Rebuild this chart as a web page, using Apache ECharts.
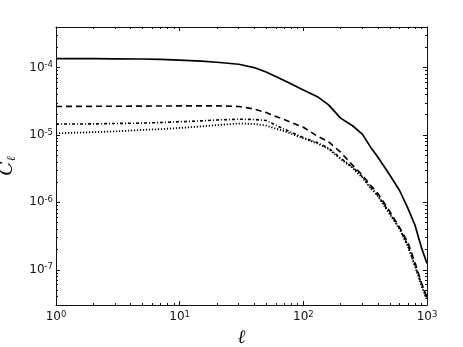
<!DOCTYPE html>
<html><head><meta charset="utf-8">
<script src="https://cdn.jsdelivr.net/npm/echarts@6/dist/echarts.min.js"></script>
<style>html,body{margin:0;padding:0;background:#fff}#c{width:463px;height:347px}</style>
</head><body><div id="c"></div>
<script>
// multipoles
const ell = [1,2,3,5,7,10,15,20,30,40,50,70,100,130,160,200,250,300,350,400,500,600,700,800,900,1000];
// series values (C_ell)
const solidC = [1.36e-4,1.355e-4,1.35e-4,1.34e-4,1.32e-4,1.29e-4,1.245e-4,1.2e-4,1.12e-4,1.0e-4,8.6e-5,6.45e-5,4.65e-5,3.7e-5,2.8e-5,1.78e-5,1.37e-5,1.03e-5,6.6e-6,4.7e-6,2.55e-6,1.5e-6,8.2e-7,4.57e-7,2.15e-7,1.24e-7];
const dashedC = [2.65e-5,2.66e-5,2.67e-5,2.68e-5,2.69e-5,2.7e-5,2.7e-5,2.7e-5,2.65e-5,2.43e-5,2.15e-5,1.69e-5,1.3e-5,9.6e-6,7.9e-6,5.57e-6,3.57e-6,2.53e-6,1.8e-6,1.36e-6,7.36e-7,4.26e-7,2.55e-7,1.28e-7,6.47e-8,3.87e-8];
const dashDotC = [1.45e-5,1.46e-5,1.48e-5,1.5e-5,1.53e-5,1.57e-5,1.62e-5,1.67e-5,1.71e-5,1.7e-5,1.64e-5,1.22e-5,9.15e-6,7.7e-6,6.38e-6,4.53e-6,3.33e-6,2.4e-6,1.68e-6,1.28e-6,6.9e-7,4.12e-7,2.3e-7,1.16e-7,6.25e-8,3.74e-8];
const dottedC = [1.06e-5,1.1e-5,1.13e-5,1.19e-5,1.22e-5,1.27e-5,1.34e-5,1.4e-5,1.48e-5,1.46e-5,1.38e-5,1.14e-5,8.9e-6,7.45e-6,6.2e-6,4.4e-6,3.25e-6,2.33e-6,1.62e-6,1.24e-6,6.7e-7,4.0e-7,2.23e-7,1.12e-7,5.8e-8,3.5e-8];
// tick values
const xMajor = [1,10,100,1000];
const yMajor = [1e-7,1e-6,1e-5,1e-4];
const minorMult = [2,3,4,5,6,7,8,9];
const xMinorDecades = [1,10,100];
const yMinorDecades = [1e-8,1e-7,1e-6,1e-5,1e-4];

const xMinor = [], yMinor = [];
xMinorDecades.forEach(d => minorMult.forEach(m => xMinor.push(m*d)));
yMinorDecades.forEach(d => minorMult.forEach(m => { const v = m*d; if (v >= 3e-8 && v <= 4e-4) yMinor.push(v); }));

const XMIN = 1, XMAX = 1000, YMIN = 3e-8, YMAX = 4e-4;
const AX = '#111';
const fmt = v => '{b|10}{s|' + Math.round(Math.log10(v)) + '}';
const rich = {
  b: {fontFamily: 'DejaVu Sans', fontSize: 12, color: '#111', lineHeight: 14},
  s: {fontFamily: 'DejaVu Sans', fontSize: 8.5, color: '#111', lineHeight: 8, verticalAlign: 'top'}
};

function axis(kind, pos, ticks, len, withLabel, extra) {
  const isX = kind === 'x';
  const a = {
    type: 'log', logBase: 10, position: pos,
    min: isX ? XMIN : YMIN, max: isX ? XMAX : YMAX,
    axisLine: {show: withLabel !== null, onZero: false, lineStyle: {color: AX, width: 1}},
    axisTick: {show: true, inside: true, length: len, customValues: ticks, lineStyle: {color: AX, width: 1}},
    axisLabel: {show: false},
    splitLine: {show: false},
    minorTick: {show: false},
    minorSplitLine: {show: false}
  };
  if (withLabel) {
    a.axisLabel = {show: true, customValues: ticks, formatter: fmt, rich: rich, margin: isX ? 5 : 3};
  }
  return Object.assign(a, extra || {});
}

const xAxes = [
  axis('x', 'bottom', xMajor, 4, true, {
    name: 'ℓ', nameLocation: 'middle', nameGap: 24,
    nameTextStyle: {fontFamily: 'DejaVu Serif', fontStyle: 'italic', fontSize: 19, color: '#111'}
  }),
  axis('x', 'bottom', xMinor, 2, null),
  axis('x', 'top', xMajor, 4, false),
  axis('x', 'top', xMinor, 2, null)
];
const yAxes = [
  axis('y', 'left', yMajor, 4, true, {
    name: '{c|C}{l|ℓ}', nameLocation: 'middle', nameGap: 36,
    nameTextStyle: {rich: {
      c: {fontFamily: 'DejaVu Serif', fontStyle: 'italic', fontSize: 19, color: '#111', lineHeight: 22},
      l: {fontFamily: 'DejaVu Serif', fontStyle: 'italic', fontSize: 12, color: '#111', lineHeight: 12, verticalAlign: 'bottom', padding: [6, 0, 0, 0]}
    }}
  }),
  axis('y', 'left', yMinor, 2, null),
  axis('y', 'right', yMajor, 4, false),
  axis('y', 'right', yMinor, 2, null)
];

function pairs(vals) { return ell.map((l, i) => [l, vals[i]]); }
function line(vals, type, width) {
  return {
    type: 'line', data: pairs(vals), xAxisIndex: 0, yAxisIndex: 0,
    showSymbol: false, symbol: 'none', smooth: false, silent: true,
    lineStyle: {color: '#000', width: width, type: type, cap: 'butt'}
  };
}

const chart = echarts.init(document.getElementById('c'), null, {renderer: 'canvas'});
chart.setOption({
  animation: false,
  backgroundColor: '#fff',
  grid: {left: 56, right: 36, top: 27, bottom: 42, containLabel: false, outerBoundsMode: 'none'},
  xAxis: xAxes,
  yAxis: yAxes,
  series: [
    line(solidC, 'solid', 1.7),
    line(dashedC, [6, 4], 1.6),
    line(dashDotC, [3, 2, 1, 2], 1.6),
    line(dottedC, [1.2, 1.8], 1.8)
  ]
});
</script>
</body></html>
